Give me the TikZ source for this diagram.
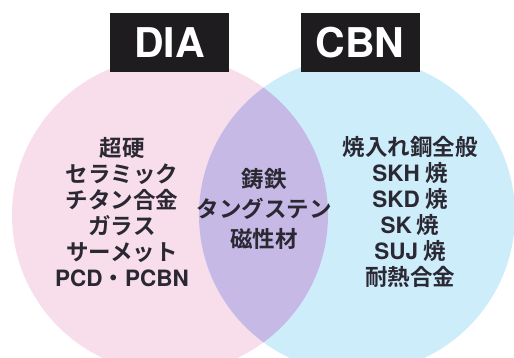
\documentclass[tikz,border=0pt]{standalone}
\usepackage{fontspec}
\setmainfont{Noto Sans CJK JP}
\newfontfamily\jpfont{Noto Sans CJK JP}[UprightFont=* Bold]
\newfontfamily\hdfont{TeX Gyre Heros}
\definecolor{pinkc}{HTML}{F8DDEA}
\definecolor{bluec}{HTML}{CDEDFB}
\definecolor{overc}{HTML}{C6B9E5}
\definecolor{txtc}{HTML}{2A2833}
\definecolor{boxc}{HTML}{1E1C1F}
\newcommand{\hdtext}[1]{{\hdfont\bfseries\fontsize{41}{42}\selectfont #1}}
\newcommand{\lat}[1]{{\hdfont\bfseries #1}}
\tikzset{
  headbox/.style={fill=boxc, text=white, minimum width=119pt, minimum height=59pt, inner sep=0pt},
  col/.style={text=txtc, align=center, inner sep=0pt, font=\jpfont\fontsize{22.5}{26}\selectfont}
}
\begin{document}
\begin{tikzpicture}[x=1pt,y=1pt]
\useasboundingbox (0,0) rectangle (514,358);
\begin{scope}
\clip (0,0) rectangle (514,358);
\fill[pinkc] (170,143) circle (158);
\fill[bluec] (357,143) circle (158);
\begin{scope}
\clip (170,143) circle (158);
\fill[overc] (357,143) circle (158);
\end{scope}
\end{scope}
\node[headbox] (dia) at (169.5,315.5) {\hdtext{DIA}};
\node[headbox] (cbn) at (360,315.5) {\hdtext{CBN}};
\node[col] (left) at (122,146) {超硬\\セラミック\\チタン合金\\ガラス\\サーメット\\\lat{PCD}・\lat{PCBN}};
\node[col, font=\jpfont\fontsize{22.5}{30}\selectfont] (mid) at (264,149) {鋳鉄\\タングステン\\磁性材};
\node[col] (right) at (410,146) {焼入れ鋼全般\\\lat{SKH} 焼\\\lat{SKD} 焼\\\lat{SK} 焼\\\lat{SUJ} 焼\\耐熱合金};
\end{tikzpicture}
\end{document}
